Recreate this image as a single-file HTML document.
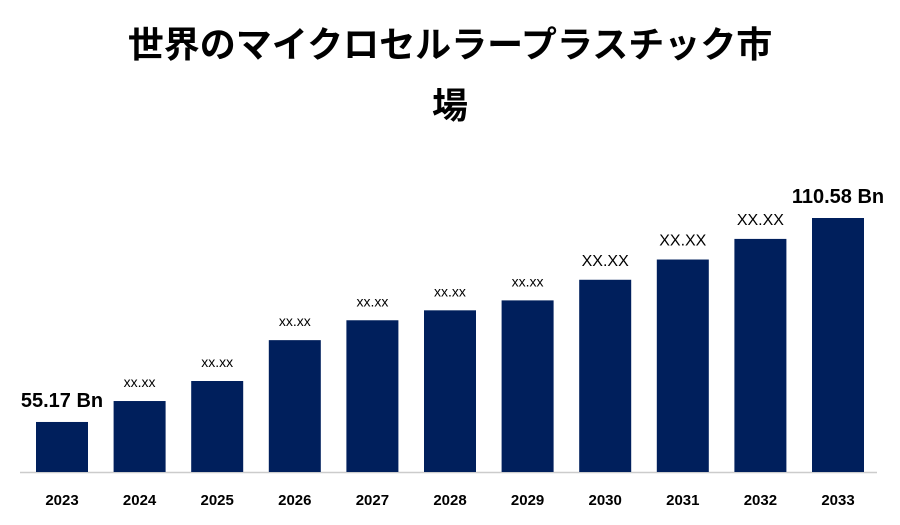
<!DOCTYPE html>
<html><head><meta charset="utf-8"><style>
body{margin:0;background:#fff;width:900px;height:525px;overflow:hidden;font-family:"Liberation Sans","Noto Sans CJK JP",sans-serif;}
.t{position:absolute;left:0;width:900px;text-align:center;font-weight:bold;font-size:36px;color:#000;line-height:40px;}
</style></head><body>
<div class="t" style="top:25px">世界のマイクロセルラープラスチック市</div>
<div class="t" style="top:86px">場</div>
<svg width="900" height="525" style="position:absolute;left:0;top:0">
<g id="bars"></g>
</svg>
<script>
const years=["2023","2024","2025","2026","2027","2028","2029","2030","2031","2032","2033"];
const values=[55.17,60.86,66.3,77.4,82.8,85.5,88.2,93.8,99.3,104.9,110.58];
const labels=["55.17 Bn","xx.xx","xx.xx","xx.xx","xx.xx","xx.xx","xx.xx","XX.XX","XX.XX","XX.XX","110.58 Bn"];
const labelSizes=[20,14,14,14,14,14,14,16,16,16,20];
const yMin=41.58, yMax=110.58, baseY=472, topY=218;
const y=v=>baseY-(v-yMin)/(yMax-yMin)*(baseY-topY);
const x=i=>36+i*77.6;
const NS="http://www.w3.org/2000/svg";
const g=document.getElementById('bars');
function mk(t,a){const e=document.createElementNS(NS,t);for(const k in a)e.setAttribute(k,a[k]);g.appendChild(e);return e;}
const ax=mk('line',{x1:20,x2:877,y1:baseY+0.5,y2:baseY+0.5,stroke:'#ccc','stroke-width':1.5});


years.forEach((yr,i)=>{
  const r=mk('rect',{x:x(i),y:y(values[i]),width:52,height:baseY-y(values[i]),fill:'#001f5c'});
  
  
  const big=labelSizes[i]>16;
  const vl=mk('text',{x:x(i)+26,y:y(values[i])-(big?15:14),'text-anchor':'middle','font-size':labelSizes[i],'font-weight':big?'bold':'normal',fill:'#000'});
  vl.textContent=labels[i];
  
  
  const t=mk('text',{x:x(i)+26,y:505,'text-anchor':'middle','font-size':15,'font-weight':'bold',fill:'#000'});
  t.textContent=yr;
  
  
});
</script>
</body></html>
